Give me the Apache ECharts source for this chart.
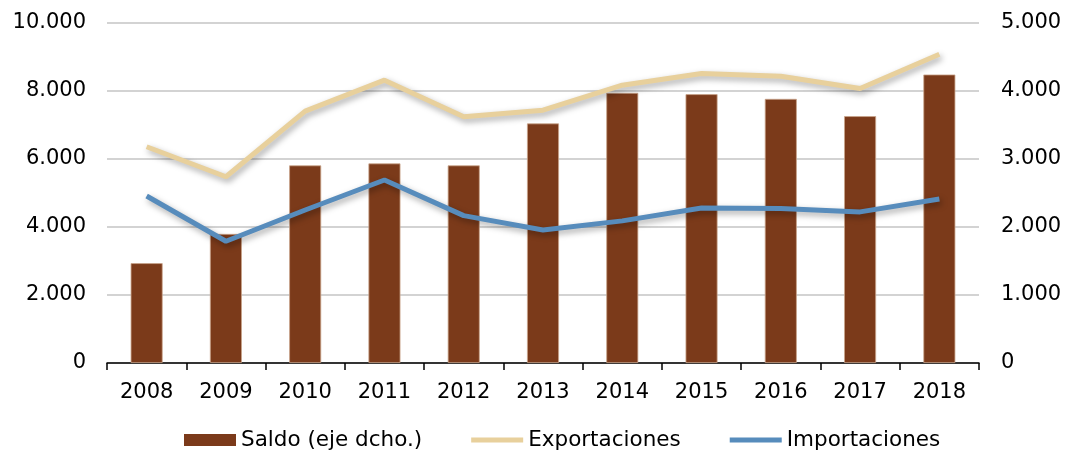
<!DOCTYPE html>
<html>
<head>
<meta charset="utf-8">
<style>
  html, body { margin: 0; padding: 0; background: #fff; }
  #chart { width: 1067px; height: 450px; }
</style>
</head>
<body>
<div id="chart"></div>
<script src="https://cdn.jsdelivr.net/npm/echarts@6/dist/echarts.min.js"></script>
<script>
    // data
    const years = ['2008', '2009', '2010', '2011', '2012', '2013', '2014', '2015', '2016', '2017', '2018'];
    const saldo = [1468, 1898, 2906, 2935, 2906, 3523, 3972, 3953, 3884, 3630, 4242];
    const exportaciones = [6360, 5478, 7407, 8318, 7240, 7437, 8171, 8514, 8435, 8074, 9081];
    const importaciones = [4912, 3580, 4500, 5383, 4334, 3914, 4180, 4561, 4545, 4444, 4824];

    // 10.000 style labels
    function fmt(v) {
        return String(v).replace(/\B(?=(\d{3})+(?!\d))/g, '.');
    }

    const font = 'DejaVu Sans';
    const chart = echarts.init(document.getElementById('chart'));

    const lineShadow = {
        shadowColor: 'rgba(0, 0, 0, 0.35)',
        shadowBlur: 6,
        shadowOffsetX: 2,
        shadowOffsetY: 3
    };

    // flat bar used as the legend mark of the lines
    const lineIcon = 'path://M0,0H52V5H0Z';

    const option = {
        animation: false,
        textStyle: { fontFamily: font },
        grid: { left: 107, right: 88, top: 23, bottom: 87 },
        legend: {
            left: 179,
            top: 424,
            itemWidth: 52,
            itemHeight: 12,
            itemGap: 49,
            textStyle: { fontFamily: font, fontSize: 21.5, color: '#000' },
            lineStyle: { width: 5, shadowBlur: 0, shadowOffsetX: 0, shadowOffsetY: 0 },
            data: [
                { name: 'Saldo (eje dcho.)', icon: 'rect', itemStyle: { borderWidth: 0 } },
                { name: 'Exportaciones', icon: lineIcon },
                { name: 'Importaciones', icon: lineIcon }
            ]
        },
        xAxis: {
            type: 'category',
            data: years,
            axisLine: { lineStyle: { color: '#000', width: 1.5 } },
            axisTick: { show: true, length: 7, lineStyle: { color: '#000', width: 1.5 } },
            axisLabel: { fontSize: 21, color: '#000', margin: 19 }
        },
        yAxis: [{
            type: 'value',
            min: 0,
            max: 10000,
            interval: 2000,
            axisLine: { show: false },
            axisTick: { show: false },
            axisLabel: { fontSize: 21, color: '#000', margin: 21, formatter: fmt },
            splitLine: { lineStyle: { color: '#c4c4c4', width: 1.5 } }
        }, {
            type: 'value',
            min: 0,
            max: 5000,
            interval: 1000,
            position: 'right',
            axisLine: { show: false },
            axisTick: { show: false },
            axisLabel: { fontSize: 21, color: '#000', margin: 22, formatter: fmt },
            splitLine: { show: false }
        }],
        series: [{
            name: 'Saldo (eje dcho.)',
            type: 'bar',
            yAxisIndex: 1,
            barWidth: 32,
            itemStyle: { color: '#7b3a1a', borderColor: '#c9a48c', borderWidth: 0.8 },
            data: saldo
        }, {
            name: 'Exportaciones',
            type: 'line',
            yAxisIndex: 0,
            symbol: 'none',
            z: 4,
            lineStyle: Object.assign({ color: '#e8d09c', width: 5 }, lineShadow),
            itemStyle: { color: '#e8d09c' },
            data: exportaciones
        }, {
            name: 'Importaciones',
            type: 'line',
            yAxisIndex: 0,
            symbol: 'none',
            z: 4,
            lineStyle: Object.assign({ color: '#578cbc', width: 5 }, lineShadow),
            itemStyle: { color: '#578cbc' },
            data: importaciones
        }]
    };

    chart.setOption(option);
</script>
</body>
</html>
